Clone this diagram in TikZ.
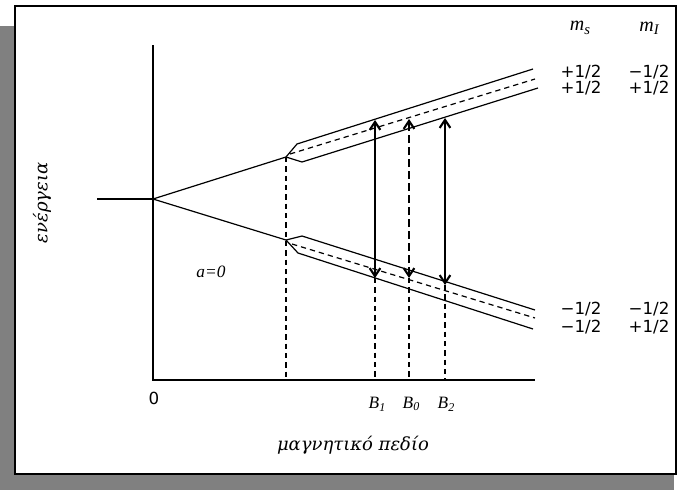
\documentclass[tikz,border=0pt]{standalone}
\usepackage{fontspec}
\setmainfont{Liberation Serif}
\newfontfamily\numfont{DejaVu Sans}
\newfontfamily\greekfont{DejaVu Serif}
\usetikzlibrary{arrows.meta}
\definecolor{shadowgray}{RGB}{128,128,128}
\newcommand{\lowsub}[1]{\raisebox{-2pt}{\fontsize{9}{9}\selectfont #1}}
\newcommand{\lowsubm}[1]{\raisebox{-2.5pt}{\fontsize{11}{11}\selectfont #1}}
\begin{document}
\begin{tikzpicture}[x=0.75pt,y=-0.75pt,
  lvl/.style={line width=0.9pt},
  mid/.style={line width=0.9pt, dash pattern=on 4pt off 3pt},
  guide/.style={line width=0.8pt, dash pattern=on 4pt off 3pt},
  trans/.style={line width=1.6pt, {Straight Barb[length=6pt,width=8pt]}-{Straight Barb[length=6pt,width=8pt]}},
  num/.style={font=\numfont\fontsize{12.5}{14}\selectfont, inner sep=0pt},
  lab/.style={font=\itshape\fontsize{13}{15}\selectfont, inner sep=0pt},
  mlab/.style={font=\itshape\fontsize{15}{17}\selectfont, inner sep=0pt},
  glab/.style={font=\greekfont\itshape\fontsize{13.5}{16}\selectfont, inner sep=0pt}]
\useasboundingbox (0,0) rectangle (678,490);
\fill[shadowgray] (0,26) rectangle (674,490);
\draw[line width=1.5pt, fill=white] (15,6) rectangle (676,474);

% axes
\coordinate (Ytop) at (153,45);
\coordinate (O) at (153,380);
\coordinate (Xend) at (535,380);
\draw[lvl] (Ytop) -- (O) -- (Xend);

% zero-field level and first splitting
\coordinate (L0) at (97,199);
\coordinate (Z) at (153,199);
\coordinate (P1) at (286,157);
\coordinate (P2) at (286,240);
\draw[lvl] (L0) -- (Z);
\draw[lvl] (Z) -- (P1);
\draw[lvl] (Z) -- (P2);

% upper band
\coordinate (U1k) at (297,144); \coordinate (U1e) at (533,69);
\coordinate (U2k) at (302,162); \coordinate (U2e) at (538,88);
\coordinate (Umk) at (290,154); \coordinate (Ume) at (535,79);
\draw[lvl] (P1) -- (U1k) -- (U1e);
\draw[lvl] (P1) -- (U2k) -- (U2e);
\draw[mid] (Umk) -- (Ume);

% lower band
\coordinate (D1k) at (302,236); \coordinate (D1e) at (535,310);
\coordinate (D2k) at (298,253); \coordinate (D2e) at (533,329);
\coordinate (Dmk) at (292,244); \coordinate (Dme) at (535,318);
\draw[lvl] (P2) -- (D1k) -- (D1e);
\draw[lvl] (P2) -- (D2k) -- (D2e);
\draw[mid] (Dmk) -- (Dme);

% transitions
\coordinate (A1t) at (375,120); \coordinate (A1b) at (375,278);
\coordinate (A0t) at (409,119); \coordinate (A0b) at (409,278);
\coordinate (A2t) at (445,118); \coordinate (A2b) at (445,285);
\draw[trans] (A1b) -- (A1t);
\draw[trans, dash pattern=on 6pt off 3pt] (A0b) -- (A0t);
\draw[trans] (A2b) -- (A2t);

% guides to the field axis
\coordinate (G0) at (286,380);
\coordinate (G1) at (375,380);
\coordinate (G2) at (409,380);
\coordinate (G3) at (445,380);
\draw[guide] (P1) -- (G0);
\draw[guide] (A1b) -- (G1);
\draw[guide] (A0b) -- (G2);
\draw[guide] (A2b) -- (G3);

% labels
\node[mlab] (ms) at (580,28) {m\lowsubm{s}};
\node[mlab] (mI) at (649,28) {m\lowsubm{I}};
\node[num] (u1s) at (581,72) {+1/2};
\node[num] (u1i) at (649,72) {\textminus1/2};
\node[num] (u2s) at (581,88) {+1/2};
\node[num] (u2i) at (649,88) {+1/2};
\node[num] (d1s) at (581,309) {\textminus1/2};
\node[num] (d1i) at (649,309) {\textminus1/2};
\node[num] (d2s) at (581,327) {\textminus1/2};
\node[num] (d2i) at (649,327) {+1/2};

\node[num] (zero) at (154,398) {0};
\node[lab] (b1) at (377,404) {B\lowsub{1}};
\node[lab] (b0) at (411,404) {B\lowsub{0}};
\node[lab] (b2) at (446,404) {B\lowsub{2}};
\node[lab] (a0) at (211,272) {a=0};

\node[glab, rotate=90] (energy) at (42,203) {ενέργεια};
\node[glab] (field) at (353,445) {μαγνητικό πεδίο};
\end{tikzpicture}
\end{document}
